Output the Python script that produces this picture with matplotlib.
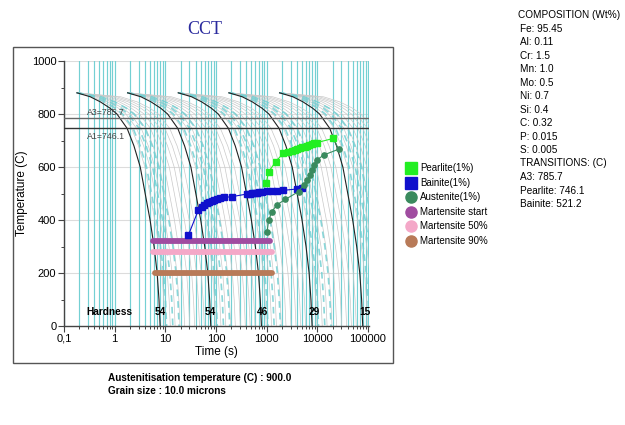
import numpy as np
import matplotlib
matplotlib.use("Agg")
import matplotlib.pyplot as plt
from matplotlib.patches import Rectangle
from matplotlib.ticker import LogLocator, FixedLocator, MultipleLocator

plt.rcParams['font.family'] = ['Liberation Sans', 'DejaVu Sans']

# ---------------- data ----------------
# base cooling curve profile (fastest curve of first family)
profile_t = [0.18, 0.33, 0.52, 0.81, 1.11, 1.76, 2.4, 3.2, 4.0, 5.0, 6.0, 6.9, 7.5, 7.9]
profile_T = [880, 865, 846, 822, 800, 746, 680, 600, 500, 400, 300, 200, 100, 0]
family_scale = [1, 10, 100, 1000, 10000]
fan_stretch = [1.25, 1.6, 2.0, 2.5, 3.1, 3.9, 4.9, 6.1, 7.6]
dash_stretch = [1.35, 1.8, 2.4]

hardness_values = ['54', '54', '46', '29', '15']
hardness_times = [7.9, 79, 820, 8700, 89000]
hardness_label_time = 0.77

A3 = 785.7
A1 = 746.1

pearlite_t = [977, 1096, 1510, 2130, 2700, 3160, 3600, 3980, 4500, 5010, 5600, 6310, 7000, 7940, 8800, 9800, 20900]
pearlite_T = [538, 582, 620, 652, 658, 662, 665, 668, 671, 674, 677, 680, 683, 686, 689, 692, 708]

bainite_t = [28.6, 45, 52, 59, 66, 74, 83, 93, 104, 120, 141, 206, 407, 460, 512, 580, 645, 720, 812, 1020, 1270, 1590, 2150, 3970, 5010]
bainite_T = [343, 438, 450, 457, 463, 468, 472, 475, 478, 482, 485, 488, 498, 500, 501, 502, 503, 505, 506, 508, 509, 510, 512, 517, 520]

austenite_t = [1020, 1100, 1270, 1590, 2350, 4270, 5370, 6310, 7300, 7940, 8540, 9800, 13300, 26300]
austenite_T = [356, 400, 431, 457, 478, 507, 532, 551, 570, 589, 608, 626, 645, 667]

mart_start_t = [5.7, 1180]
mart_start_T = 322
mart50_t = [5.7, 1250]
mart50_T = 280
mart90_t = [6.3, 1250]
mart90_T = 201

legend_labels = ['Pearlite(1%)', 'Bainite(1%)', 'Austenite(1%)',
                 'Martensite start', 'Martensite 50%', 'Martensite 90%']

composition = ['COMPOSITION (Wt%)', 'Fe: 95.45', 'Al: 0.11', 'Cr: 1.5', 'Mn: 1.0',
               'Mo: 0.5', 'Ni: 0.7', 'Si: 0.4', 'C: 0.32', 'P: 0.015', 'S: 0.005',
               'TRANSITIONS: (C)', 'A3: 785.7', 'Pearlite: 746.1', 'Bainite: 521.2']

xtick_vals = [0.1, 1, 10, 100, 1000, 10000, 100000]
xtick_labels = ['0,1', '1', '10', '100', '1000', '10000', '100000']

# colors
c_teal = '#74d0d3'
c_pearl = '#22ee22'
c_bain = '#1010cc'
c_aust = '#3a8a5e'
c_mstart = '#a04ca0'
c_m50 = '#f4a8c8'
c_m90 = '#b87a58'

# ---------------- figure ----------------
W, H = 625, 425
fig = plt.figure(figsize=(W / 100, H / 100), dpi=100)

ax_l, ax_r, ax_t, ax_b = 64, 369, 61, 326
ax = fig.add_axes([ax_l / W, 1 - ax_b / H, (ax_r - ax_l) / W, (ax_b - ax_t) / H])
ax.set_xscale('log')
ax.set_xlim(0.1, 1.05e5)
ax.set_ylim(0, 1000)

# teal vertical lines at all log ticks
vlines = [m * 10.0 ** n for n in range(-1, 5) for m in range(1, 10)] + [1e5]
for v in vlines:
    ax.axvline(v, color=c_teal, lw=0.85, zorder=1)

# horizontal grid
for yv in [200, 400, 600, 800, 1000]:
    ax.axhline(yv, color='#dcdcdc', lw=0.8, zorder=0.5)

pt = np.array(profile_t)
pT = np.array(profile_T)
t0 = pt[0]
for s in family_scale:
    for k in fan_stretch:
        tt = (t0 + (pt - t0) * k) * s
        ax.plot(tt, pT, color='#c9c9c9', lw=0.5, zorder=2)
    for k in dash_stretch:
        tt = (t0 + (pt - t0) * k) * s
        ax.plot(tt, pT, color=c_teal, lw=1.2, ls=(0, (4, 3)), alpha=0.85, zorder=2.2)
    ax.plot(pt * s, pT, color='#222222', lw=0.8, zorder=3)

# critical lines
ax.axhline(A3, color='#666666', lw=1.0, zorder=3)
ax.axhline(A1, color='#333333', lw=1.0, zorder=3)
ax.text(0.29, A3 + 12, 'A3=785.7', fontsize=6.3, color='#444444', zorder=4)
ax.text(0.29, A1 - 14, 'A1=746.1', fontsize=6.3, color='#444444', va='top', zorder=4)

# martensite bars
ax.plot(mart_start_t, [mart_start_T] * 2, color=c_mstart, lw=4.2, solid_capstyle='round', zorder=5)
ax.plot(mart50_t, [mart50_T] * 2, color=c_m50, lw=4.2, solid_capstyle='round', zorder=5)
ax.plot(mart90_t, [mart90_T] * 2, color=c_m90, lw=4.2, solid_capstyle='round', zorder=5)

# transformation curves
ax.plot(bainite_t, bainite_T, color=c_bain, lw=0.8, marker='s', ms=3.8, mec=c_bain, zorder=6)
ax.plot(austenite_t, austenite_T, color=c_aust, lw=0.8, marker='o', ms=3.8, mec=c_aust, zorder=6)
ax.plot(pearlite_t, pearlite_T, color=c_pearl, lw=0.8, marker='s', ms=4.0, mec=c_pearl, zorder=6)
ax.plot([pearlite_t[-1], austenite_t[-1]], [pearlite_T[-1], austenite_T[-1]], color=c_aust, lw=0.8, zorder=5.5)

# hardness
ax.text(hardness_label_time, 53, 'Hardness', fontsize=7.3, fontweight='bold', ha='center', va='center', zorder=7)
for hv, ht in zip(hardness_values, hardness_times):
    ax.text(ht, 53, hv, fontsize=7.3, fontweight='bold', ha='center', va='center', zorder=7)

# axes styling
for sp in ['top', 'right']:
    ax.spines[sp].set_visible(False)
for sp in ['left', 'bottom']:
    ax.spines[sp].set_color('#444444')
    ax.spines[sp].set_linewidth(1.0)
ax.xaxis.set_major_locator(FixedLocator(xtick_vals))
ax.set_xticklabels(xtick_labels)
ax.xaxis.set_minor_locator(LogLocator(base=10, subs=np.arange(2, 10)))
ax.xaxis.set_minor_formatter(plt.NullFormatter())
ax.yaxis.set_major_locator(MultipleLocator(200))
ax.yaxis.set_minor_locator(MultipleLocator(100))
ax.tick_params(axis='both', which='major', length=4, width=0.8, color='#444444', labelsize=8, pad=1.5)
ax.tick_params(axis='both', which='minor', length=2.5, width=0.7, color='#444444')
ax.set_xlabel('Time (s)', fontsize=8.5, labelpad=2)
ax.set_ylabel('Temperature (C)', fontsize=8.5, labelpad=3)
ax.patch.set_alpha(0)

# ---------------- overlay for annotations ----------------
ov = fig.add_axes([0, 0, 1, 1], zorder=-1)
ov.set_xlim(0, W)
ov.set_ylim(H, 0)
ov.axis('off')
ov.add_patch(Rectangle((13, 47), 380, 316, fill=False, ec='#555555', lw=1.0))

fig.text(205 / W, 1 - 30 / H, 'CCT', fontsize=13, color='#2b2b9e', family='Liberation Serif',
         ha='center', va='center')

leg_markers = [('s', c_pearl), ('s', c_bain), ('o', c_aust), ('o', c_mstart), ('o', c_m50), ('o', c_m90)]
leg_y0, leg_dy = 168, 14.5
for i, (lab, (mk, col)) in enumerate(zip(legend_labels, leg_markers)):
    y = leg_y0 + i * leg_dy
    ov.plot([411], [y], marker=mk, ms=8, color=col, mec=col, ls='none')
    ov.text(420, y, lab, fontsize=7, va='center', ha='left')

for i, line in enumerate(composition):
    x = 518 if i == 0 else 520
    ov.text(x, 15 + i * 13.5, line, fontsize=7.2, va='center', ha='left')

ov.text(108, 378, 'Austenitisation temperature (C) : 900.0', fontsize=7.2, fontweight='bold', va='center')
ov.text(108, 391, 'Grain size : 10.0 microns', fontsize=7.2, fontweight='bold', va='center')

fig.savefig('out.png', dpi=100)
